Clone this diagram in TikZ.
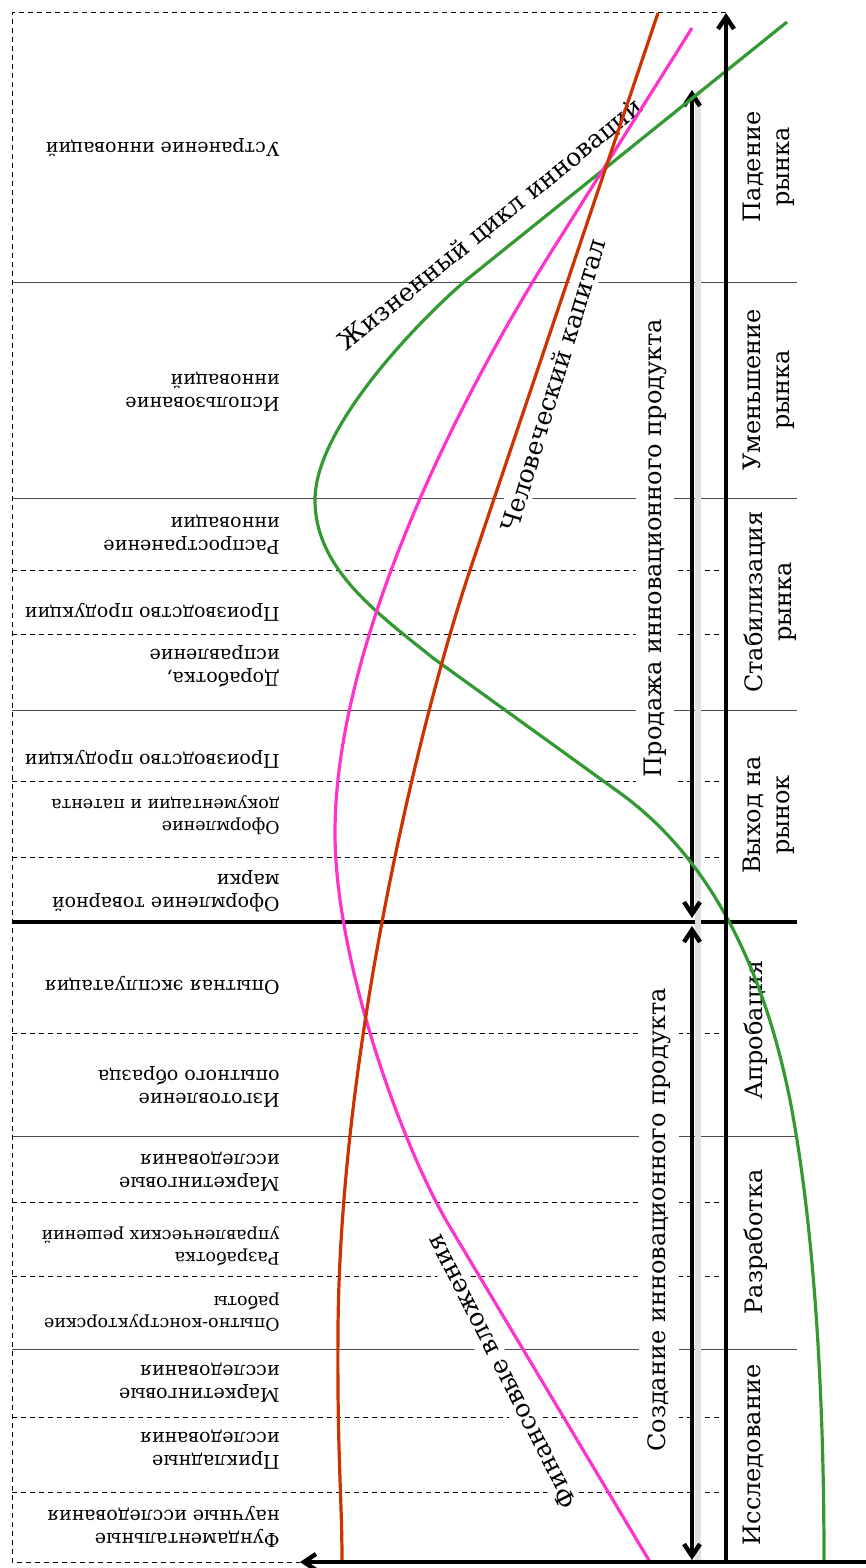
\documentclass[tikz,border=0pt]{standalone}
\usepackage{fontspec}
\setmainfont{DejaVu Serif}
\usetikzlibrary{arrows.meta,positioning}
\definecolor{lifegreen}{RGB}{51,153,51}
\definecolor{finpink}{RGB}{255,51,204}
\definecolor{humred}{RGB}{204,51,0}

\begin{document}
\begin{tikzpicture}[x=0.5pt, y=-0.5pt,
  work/.style = {rotate=180, anchor=west, align=left, inner sep=0pt, font=\fontsize{9.5}{11.5}\selectfont},
  smallwork/.style = {work, font=\fontsize{8.7}{11}\selectfont},
  stage/.style = {rotate=90, anchor=north, align=center, inner sep=0pt, font=\fontsize{12}{14.5}\selectfont},
  phase/.style = {rotate=90, fill=white, inner sep=4pt, font=\fontsize{12}{14}\selectfont},
  curvelabel/.style = {inner sep=2pt, font=\fontsize{12.5}{15}\selectfont},
  solidline/.style = {line width=0.5pt, black!70},
  dashline/.style = {line width=0.5pt, dash pattern=on 2.5pt off 2pt},
  axis/.style = {line width=2.2pt, -{Straight Barb[length=6pt,width=8pt]}},
  twoway/.style = {line width=2.2pt, {Straight Barb[length=6pt,width=8pt]}-{Straight Barb[length=6pt,width=8pt]}},
  lifecurve/.style = {line width=1.6pt, lifegreen},
  fincurve/.style = {line width=1.6pt, finpink},
  humcurve/.style = {line width=1.6pt, humred}]
\useasboundingbox (0,0) rectangle (866,1568);

% stage borders
\foreach \y in {282,498,710,1136,1349}
  \draw[solidline] (12,\y) -- (797,\y);
\foreach \y in {570,634,781,857,1033,1202,1276,1417,1492}
  \draw[dashline] (12,\y) -- (720,\y);
\draw[line width=2pt] (12,922) -- (797,922);

% works (upside down)
\node[work] (w1)  at (280,148)  {Устранение инноваций};
\node[work] (w2)  at (280,392)  {Использование\\инноваций};
\node[work] (w3)  at (280,535)  {Распространение\\инновации};
\node[work] (w4)  at (280,612)  {Производство продукции};
\node[work] (w5)  at (280,666)  {Доработка,\\исправление};
\node[work] (w6)  at (280,759)  {Производство продукции};
\node[smallwork] (w7)  at (280,815)  {Оформление\\документации и патента};
\node[work] (w8)  at (280,891)  {Оформление товарной\\марки};
\node[work] (w9)  at (280,985)  {Опытная эксплуатация};
\node[work] (w10) at (280,1087) {Изготовление\\опытного образца};
\node[work] (w11) at (280,1172) {Маркетинговые\\исследования};
\node[smallwork] (w12) at (280,1246) {Разработка\\управленческих решений};
\node[smallwork] (w13) at (280,1312) {Опытно-конструкторские\\работы};
\node[work] (w14) at (280,1383) {Маркетинговые\\исследования};
\node[work] (w15) at (280,1450) {Прикладные\\исследования};
\node[work] (w16) at (280,1527) {Фундаментальные\\научные исследования};

% stages
\node[stage] (st1) at (743,167)  {Падение\\рынка};
\node[stage] (st2) at (743,390)  {Уменьшение\\рынка};
\node[stage] (st3) at (743,602)  {Стабилизация\\рынка};
\node[stage] (st4) at (743,815)  {Выход на\\рынок};
\node[stage] (st5) at (743,1030) {Апробация};
\node[stage] (st6) at (743,1242) {Разработка};
\node[stage] (st7) at (743,1455) {Исследование};

% phases
\node[phase] (sale)   at (655,548)  {Продажа инновационного продукта};
\node[phase] (create) at (659,1220) {Создание инновационного продукта};

\coordinate (s1) at (692,90);
\coordinate (s2) at (692,918);
\coordinate (c1) at (692,926);
\coordinate (c2) at (692,1560);
\draw[line width=3pt, black!12] (698,90) -- (698,1560);
\draw[twoway] (s1) -- (s2);
\draw[twoway] (c1) -- (c2);

% curve labels
\node[curvelabel, rotate=39] (life) at (491,225) {Жизненный цикл инноваций};
\node[curvelabel, rotate=73, fill=white] (hum) at (553,385) {Человеческий капитал};
\node[curvelabel, rotate=117, fill=white] (fin) at (501,1372) {Финансовые вложения};

% curves
\draw[lifecurve] (787,22) -- (470,277) .. controls (440,301) and (315,420) .. (315,500)
  .. controls (315,570) and (380,615) .. (433,658) -- (620,793)
  .. controls (700,851) and (760,950) .. (790,1100)
  .. controls (815,1230) and (824,1400) .. (824,1560);
\draw[fincurve] (692,28) -- (560,238) .. controls (450,410) and (335,650) .. (335,833)
  .. controls (335,960) and (402,1147) .. (450,1227) -- (650,1562);
\draw[humcurve] (658,13) -- (470,570) .. controls (420,720) and (340,1050) .. (338,1330)
  .. controls (337,1450) and (342,1500) .. (342,1560);

% axes
\coordinate (o) at (726,1562);
\coordinate (ytop) at (726,13);
\coordinate (xleft) at (300,1562);
\coordinate (xright) at (866,1562);
\draw[dashline] (ytop) -- (12,13) -- (12,1562) -- (xleft);
\draw[axis] (o) -- (ytop);
\draw[axis] (xright) -- (xleft);
\end{tikzpicture}
\end{document}
